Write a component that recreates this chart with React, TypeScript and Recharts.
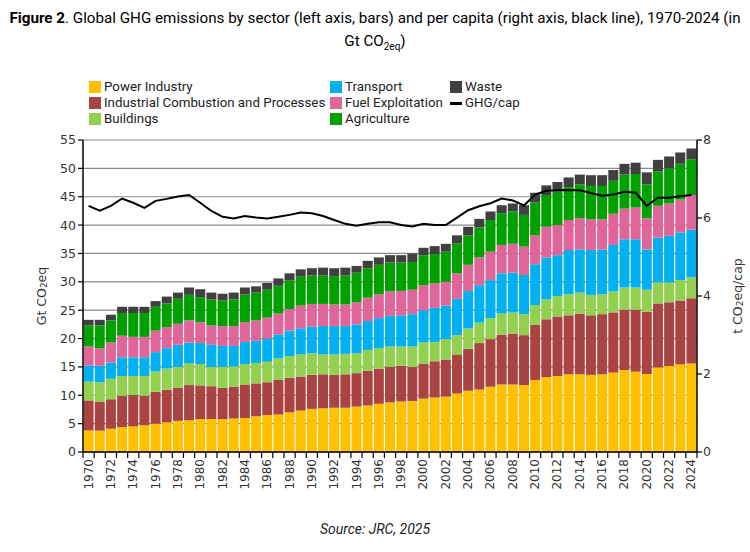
import React from "react";
import { ComposedChart, Bar, Line, XAxis, YAxis, CartesianGrid, Legend } from "recharts";

// categories
const years = [
  "1970", "1971", "1972", "1973", "1974", "1975", "1976", "1977", "1978", "1979",
  "1980", "1981", "1982", "1983", "1984", "1985", "1986", "1987", "1988", "1989",
  "1990", "1991", "1992", "1993", "1994", "1995", "1996", "1997", "1998", "1999",
  "2000", "2001", "2002", "2003", "2004", "2005", "2006", "2007", "2008", "2009",
  "2010", "2011", "2012", "2013", "2014", "2015", "2016", "2017", "2018", "2019",
  "2020", "2021", "2022", "2023", "2024",
];

// Gt CO2eq per sector
const power = [
  3.8, 3.76, 4.1, 4.4, 4.5, 4.7, 5.0, 5.2, 5.5, 5.6,
  5.8, 5.8, 5.8, 5.9, 6.0, 6.3, 6.5, 6.6, 7.0, 7.3,
  7.6, 7.7, 7.8, 7.8, 8.0, 8.2, 8.5, 8.75, 8.9, 9.0,
  9.4, 9.6, 9.75, 10.3, 10.8, 11.0, 11.5, 11.9, 11.9, 11.8,
  12.7, 13.2, 13.4, 13.7, 13.7, 13.6, 13.7, 14.0, 14.45, 14.15,
  13.75, 14.9, 15.15, 15.45, 15.6,
];
const industry = [
  5.3, 5.14, 5.2, 5.5, 5.55, 5.2, 5.6, 5.8, 5.8, 6.2,
  5.95, 5.8, 5.5, 5.6, 5.9, 5.8, 5.8, 6.1, 6.1, 6.0,
  6.0, 6.0, 5.8, 5.9, 5.9, 6.1, 6.2, 6.25, 6.3, 6.0,
  6.2, 6.4, 6.55, 6.9, 7.4, 8.2, 8.4, 8.8, 9.0, 8.8,
  9.7, 10.2, 10.5, 10.4, 10.7, 10.5, 10.6, 10.6, 10.65, 10.95,
  10.95, 11.3, 11.25, 11.25, 11.5,
];
const buildings = [
  3.3, 3.4, 3.6, 3.5, 3.35, 3.5, 3.6, 3.7, 3.7, 3.8,
  3.75, 3.4, 3.7, 3.6, 3.6, 3.6, 3.6, 3.8, 3.8, 3.9,
  3.8, 3.5, 3.6, 3.6, 3.5, 3.7, 3.6, 3.6, 3.4, 3.6,
  3.7, 3.4, 3.6, 3.4, 3.6, 3.6, 3.7, 3.7, 3.7, 3.7,
  3.5, 3.5, 3.6, 3.7, 3.7, 3.6, 3.5, 3.7, 3.9, 3.9,
  3.9, 3.7, 3.5, 3.6, 3.7,
];
const transport = [
  2.8, 2.9, 2.9, 3.3, 3.3, 3.3, 3.4, 3.6, 3.9, 3.7,
  3.7, 3.9, 3.7, 3.6, 3.9, 3.9, 4.1, 4.2, 4.5, 4.6,
  4.7, 5.0, 5.0, 4.9, 5.1, 5.1, 5.3, 5.4, 5.5, 5.7,
  5.7, 6.0, 5.9, 6.4, 6.6, 6.6, 6.7, 7.1, 7.0, 6.9,
  7.2, 7.4, 7.2, 7.8, 7.6, 7.9, 7.9, 8.2, 8.5, 8.5,
  7.1, 7.9, 8.2, 8.4, 8.4,
];
const fuel = [
  3.4, 3.1, 3.5, 3.8, 3.6, 3.6, 3.8, 3.7, 3.7, 3.9,
  3.7, 3.4, 3.5, 3.5, 3.5, 3.6, 3.7, 3.7, 3.8, 4.0,
  4.0, 3.9, 3.8, 3.8, 3.9, 4.1, 4.2, 4.3, 4.3, 4.3,
  4.4, 4.3, 4.2, 4.5, 4.6, 4.9, 5.0, 5.0, 5.1, 5.0,
  5.1, 5.4, 5.3, 5.3, 5.5, 5.4, 5.3, 5.5, 5.4, 5.6,
  5.5, 5.6, 5.7, 5.8, 6.1,
];
const agriculture = [
  3.7, 4.0, 3.9, 4.0, 4.2, 4.2, 4.2, 4.2, 4.4, 4.5,
  4.4, 4.6, 4.5, 4.7, 4.9, 4.9, 4.9, 4.9, 5.0, 5.1,
  5.0, 5.0, 5.0, 5.1, 5.2, 5.2, 5.2, 5.1, 5.0, 4.9,
  5.3, 5.2, 5.3, 5.3, 5.2, 5.3, 5.6, 5.6, 5.7, 5.6,
  5.8, 5.6, 5.9, 5.8, 6.0, 5.9, 5.9, 5.8, 6.0, 5.9,
  6.0, 6.1, 6.2, 6.3, 6.3,
];
const waste = [
  1.0, 1.0, 1.0, 1.1, 1.1, 1.1, 1.0, 1.2, 1.1, 1.3,
  1.4, 1.2, 1.2, 1.2, 1.2, 1.1, 1.2, 1.3, 1.3, 1.3,
  1.3, 1.4, 1.4, 1.4, 1.2, 1.3, 1.3, 1.3, 1.3, 1.5,
  1.3, 1.4, 1.4, 1.4, 1.5, 1.5, 1.5, 1.4, 1.4, 1.7,
  1.7, 1.7, 1.7, 1.7, 1.7, 1.9, 1.9, 1.9, 1.9, 2.0,
  2.1, 2.0, 2.1, 2.0, 1.9,
];
// t CO2eq per capita (right axis)
const perCapita = [
  6.31, 6.19, 6.31, 6.5, 6.39, 6.26, 6.44, 6.49, 6.55, 6.59,
  6.39, 6.18, 6.03, 5.99, 6.05, 6.01, 5.99, 6.03, 6.08, 6.14,
  6.12, 6.05, 5.95, 5.85, 5.8, 5.85, 5.89, 5.89, 5.82, 5.78,
  5.85, 5.82, 5.82, 6.01, 6.2, 6.3, 6.38, 6.5, 6.45, 6.32,
  6.6, 6.7, 6.71, 6.72, 6.71, 6.64, 6.57, 6.6, 6.67, 6.65,
  6.31, 6.52, 6.52, 6.56, 6.59,
];

const leftTicks = [0, 5, 10, 15, 20, 25, 30, 35, 40, 45, 50, 55];
const rightTicks = [0, 2, 4, 6, 8];

const sectors = [
  { key: "power", name: "Power Industry", color: "#FFC000" },
  { key: "industry", name: "Industrial Combustion and Processes", color: "#A94442" },
  { key: "buildings", name: "Buildings", color: "#92D050" },
  { key: "transport", name: "Transport", color: "#00B0F0" },
  { key: "fuel", name: "Fuel Exploitation", color: "#E06699" },
  { key: "agriculture", name: "Agriculture", color: "#00A000" },
  { key: "waste", name: "Waste", color: "#404040" },
];

const data = years.map((year, i) => ({
  year,
  power: power[i],
  industry: industry[i],
  buildings: buildings[i],
  transport: transport[i],
  fuel: fuel[i],
  agriculture: agriculture[i],
  waste: waste[i],
  perCapita: perCapita[i],
}));

const W = 750;
const H = 552;
const MARGIN = { top: 140, right: 13, bottom: 50, left: 43 };
const Y_AXIS_W = 40;
const PLOT_W = W - MARGIN.left - MARGIN.right - 2 * Y_AXIS_W;
const BAND = PLOT_W / years.length;

const NARROW = 'Roboto, "Liberation Sans", sans-serif';
const TICK_FONT = '"DejaVu Sans", Verdana, sans-serif';

const YearTick = (props: any) => {
  const { x, y, payload, index } = props;
  const isLast = index === years.length - 1;
  const showLabel = Number(payload.value) % 2 === 0;
  return (
    <g>
      <line x1={x - BAND / 2} x2={x - BAND / 2} y1={y} y2={y + 6} stroke="#000" strokeWidth={1.2} />
      {isLast && <line x1={x + BAND / 2} x2={x + BAND / 2} y1={y} y2={y + 6} stroke="#000" strokeWidth={1.2} />}
      {showLabel && (
        <text
          x={x}
          y={y + 7}
          transform={`rotate(-90, ${x}, ${y + 7})`}
          textAnchor="end"
          dominantBaseline="central"
          fontFamily={TICK_FONT}
          fontSize={12}
          fill="#333"
        >
          {payload.value}
        </text>
      )}
    </g>
  );
};

const AxisTitle = ({ cx, cy, pre, post }: { cx: number; cy: number; pre: string; post: string }) => (
  <text
    x={cx}
    y={cy}
    transform={`rotate(-90, ${cx}, ${cy})`}
    textAnchor="middle"
    dominantBaseline="central"
    fontFamily={TICK_FONT}
    fontSize={12.5}
    fill="#333"
  >
    {pre}
    <tspan dy={3} fontSize={9}>2</tspan>
    <tspan dy={-3}>{post}</tspan>
  </text>
);

const LegendBox = () => {
  const item = (label: string, color: string, isLine = false) => (
    <div key={label} style={{ display: "flex", alignItems: "center", height: 16, whiteSpace: "nowrap" }}>
      {isLine ? (
        <span style={{ flexShrink: 0, display: "inline-block", width: 12, height: 3, background: "#000", marginRight: 3 }} />
      ) : (
        <span style={{ flexShrink: 0, display: "inline-block", width: 12, height: 12, background: color, marginRight: 3 }} />
      )}
      <span>{label}</span>
    </div>
  );
  return (
    <div style={{ display: "flex", fontFamily: NARROW, fontSize: 13.3, color: "#222", lineHeight: "16px" }}>
      <div style={{ width: 241, flexShrink: 0 }}>{sectors.slice(0, 3).map((s) => item(s.name, s.color))}</div>
      <div style={{ width: 120, flexShrink: 0 }}>{sectors.slice(3, 6).map((s) => item(s.name, s.color))}</div>
      <div>
        {item(sectors[6].name, sectors[6].color)}
        {item("GHG/cap", "#000", true)}
      </div>
    </div>
  );
};

export default function App() {
  return (
    <div style={{ position: "absolute", left: 0, top: 0, width: W, height: H, background: "#fff", fontFamily: NARROW }}>
      <div
        style={{
          position: "absolute",
          top: 7,
          left: 0,
          width: W,
          textAlign: "center",
          fontSize: 15.2,
          lineHeight: "23px",
          color: "#000",
          whiteSpace: "nowrap",
        }}
      >
        <b>Figure 2</b>. Global GHG emissions by sector (left axis, bars) and per capita (right axis, black line), 1970-2024 (in
        <br />
        Gt CO<sub style={{ fontSize: 10 }}>2eq</sub>)
      </div>
      <ComposedChart
        width={W}
        height={H}
        data={data}
        margin={MARGIN}
        barCategoryGap={0.6}
        style={{ position: "absolute", left: 0, top: 0 }}
      >
        <CartesianGrid yAxisId="left" vertical={false} stroke="#8a8a8a" strokeWidth={1.2} />
        <XAxis
          dataKey="year"
          interval={0}
          height={50}
          tickSize={0}
          tickMargin={0}
          tickLine={false}
          axisLine={{ stroke: "#000", strokeWidth: 1.5 }}
          tick={<YearTick />}
        />
        <YAxis
          yAxisId="left"
          width={Y_AXIS_W}
          domain={[0, 55]}
          ticks={leftTicks}
          interval={0}
          tickSize={5}
          tickMargin={2}
          axisLine={{ stroke: "#000", strokeWidth: 1.5 }}
          tickLine={{ stroke: "#000", strokeWidth: 1.2 }}
          tick={{ fontFamily: TICK_FONT, fontSize: 12.5, fill: "#333" }}
          label={() => <AxisTitle cx={41} cy={296} pre="Gt CO" post="eq" />}
        />
        <YAxis
          yAxisId="right"
          orientation="right"
          width={Y_AXIS_W}
          domain={[0, 8]}
          ticks={rightTicks}
          interval={0}
          tickSize={5}
          tickMargin={1}
          axisLine={{ stroke: "#000", strokeWidth: 1.5 }}
          tickLine={{ stroke: "#000", strokeWidth: 1.2 }}
          tick={{ fontFamily: TICK_FONT, fontSize: 12.5, fill: "#333" }}
          label={() => <AxisTitle cx={737} cy={296} pre="t CO" post="eq/cap" />}
        />
        {sectors.map((s) => (
          <Bar
            key={s.key}
            yAxisId="left"
            dataKey={s.key}
            name={s.name}
            stackId="ghg"
            fill={s.color}
            isAnimationActive={false}
          />
        ))}
        <Line
          yAxisId="right"
          type="linear"
          dataKey="perCapita"
          name="GHG/cap"
          stroke="#000"
          strokeWidth={2}
          dot={false}
          activeDot={false}
          isAnimationActive={false}
        />
        <Legend
          layout="vertical"
          align="center"
          verticalAlign="middle"
          wrapperStyle={{ top: 79, left: 89, width: 520, height: 50 }}
          content={() => <LegendBox />}
        />
      </ComposedChart>
      <div
        style={{
          position: "absolute",
          top: 521,
          left: 0,
          width: W,
          textAlign: "center",
          fontSize: 14,
          fontStyle: "italic",
          color: "#222",
        }}
      >
        Source: JRC, 2025
      </div>
    </div>
  );
}
